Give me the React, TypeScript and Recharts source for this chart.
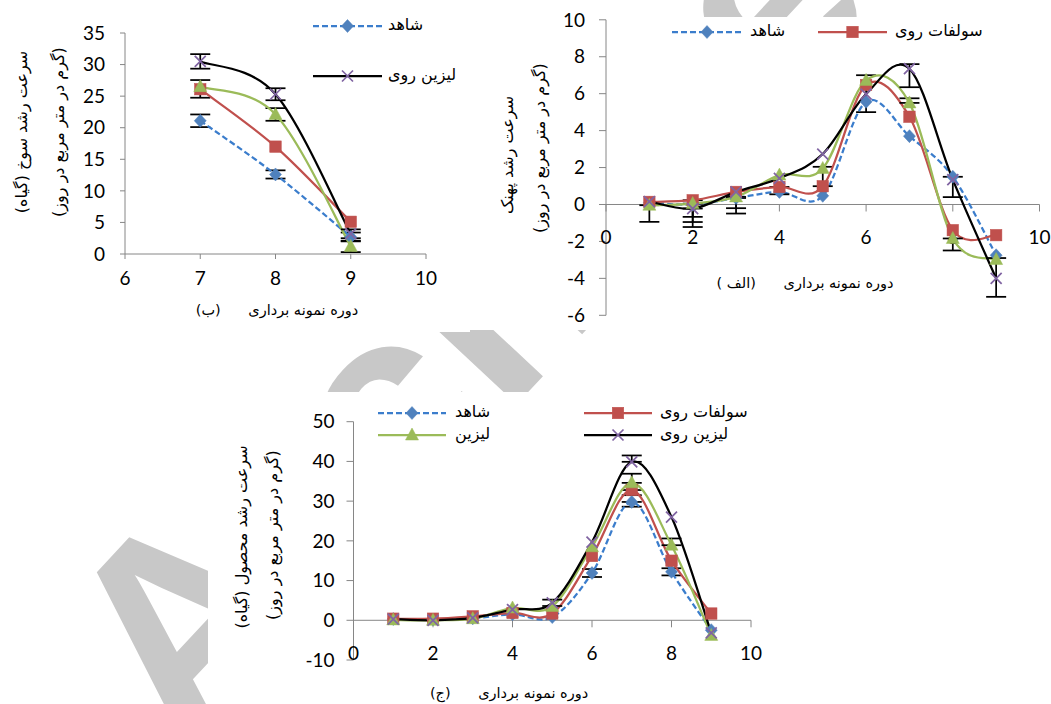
import React from 'react';
import { LineChart, Line, XAxis, YAxis, ErrorBar, ReferenceLine, ReferenceDot } from 'recharts';

// ---------- data ----------
const seriesNames = ['شاهد', 'سولفات روی', 'لیزین', 'لیزین روی'];

// (الف) leaf blade growth rate
const periodsA = [1, 2, 3, 4, 5, 6, 7, 8, 9];
const controlA = [0.1, 0.0, 0.35, 0.68, 0.47, 5.56, 3.7, 1.5, -2.75];
const znSulfateA = [0.14, 0.23, 0.68, 0.95, 0.99, 6.47, 4.75, -1.39, -1.66];
const lysineA = [-0.04, 0.05, 0.41, 1.59, 1.95, 6.72, 5.5, -1.84, -2.98];
const znLysineA = [0.16, -0.22, 0.68, 1.42, 2.73, 5.98, 7.35, 1.35, -4.0];
type Err = number | [number, number] | null;
const controlAErr: Err[] = [null, null, [0.55, 0], null, null, [0.56, 1.44], null, null, null];
const znSulfateAErr: Err[] = [null, [0.9, 0], null, [0.4, 0], [0, 1.05], null, null, null, null];
const lysineAErr: Err[] = [[0.9, 0], [1.0, 0], [0.9, 0], null, null, null, [0, 0.25], [0.65, 0], null];
const znLysineAErr: Err[] = [null, [1.0, 0], null, null, null, null, [1.0, 0.25], [0.95, 0.15], [1.0, 1.1]];
const xTicksA = [0, 2, 4, 6, 8, 10];
const yTicksA = [-6, -4, -2, 0, 2, 4, 6, 8, 10];

// (ب) sheath growth rate
const periodsB = [7, 8, 9];
const controlB = [21.1, 12.6, 2.7];
const znSulfateB = [26.1, 17.0, 5.1];
const lysineB = [26.5, 22.1, 1.2];
const znLysineB = [30.5, 25.3, 3.2];
const controlBErr: Err[] = [1.0, 0.65, 0.7];
const znSulfateBErr: Err[] = [[1.35, 1.45], null, null];
const lysineBErr: Err[] = [null, 1.0, 0.9];
const znLysineBErr: Err[] = [1.15, 0.95, 0.7];
const xTicksB = [6, 7, 8, 9, 10];
const yTicksB = [0, 5, 10, 15, 20, 25, 30, 35];

// (ج) crop growth rate
const periodsC = [1, 2, 3, 4, 5, 6, 7, 8, 9];
const controlC = [0.3, 0.2, 0.5, 1.5, 0.8, 11.9, 29.8, 12.2, -2.5];
const znSulfateC = [0.4, 0.4, 1.0, 1.85, 1.7, 16.2, 32.8, 15.0, 1.7];
const lysineC = [0.1, 0.0, 0.4, 3.1, 3.5, 18.5, 34.6, 18.9, -3.8];
const znLysineC = [0.3, 0.0, 0.6, 2.7, 4.4, 19.7, 39.9, 26.0, -3.2];
const controlCErr: Err[] = [null, null, null, null, null, 1.0, [1.2, 0], 0.9, null];
const znSulfateCErr: Err[] = [null, null, null, null, null, null, [1.3, 0], null, null];
const lysineCErr: Err[] = [null, null, null, null, null, null, [0, 2.3], [0, 1.7], null];
const znLysineCErr: Err[] = [null, null, null, null, 0.8, null, [0, 1.6], null, null];
const xTicksC = [0, 2, 4, 6, 8, 10];
const yTicksC = [-10, 0, 10, 20, 30, 40, 50];

// ---------- styles ----------
const AXIS = '#868686';
const NUM_FONT = 'Lato, "Liberation Sans", sans-serif';
const NUM_SIZE = 19;
const FA_FONT = '"DejaVu Sans", sans-serif';

const SERIES = [
  { key: 'control', line: '#3B7DCC', marker: 'diamond', markerColor: '#4F81BD', dash: '6 3' },
  { key: 'znSulfate', line: '#C0504D', marker: 'square', markerColor: '#C0504D', dash: undefined },
  { key: 'lysine', line: '#9BBB59', marker: 'triangle', markerColor: '#9BBB59', dash: undefined },
  { key: 'znLysine', line: '#000000', marker: 'x', markerColor: '#8064A2', dash: undefined },
];

function buildRows(periods: number[], values: number[][], errs: Err[][]) {
  return periods.map((p, i) => {
    const row: any = { period: p };
    SERIES.forEach((s, j) => {
      row[s.key] = values[j][i];
      row[s.key + 'Err'] = errs[j][i];
    });
    return row;
  });
}

const rowsA = buildRows(periodsA, [controlA, znSulfateA, lysineA, znLysineA], [controlAErr, znSulfateAErr, lysineAErr, znLysineAErr]);
const rowsB = buildRows(periodsB, [controlB, znSulfateB, lysineB, znLysineB], [controlBErr, znSulfateBErr, lysineBErr, znLysineBErr]);
const rowsC = buildRows(periodsC, [controlC, znSulfateC, lysineC, znLysineC], [controlCErr, znSulfateCErr, lysineCErr, znLysineCErr]);

// Excel-like smoothed line (Catmull-Rom as cubic Bezier)
function excelSmooth(context: any) {
  let pts: number[][] = [];
  return {
    areaStart() {},
    areaEnd() {},
    lineStart() {
      pts = [];
    },
    point(x: number, y: number) {
      pts.push([+x, +y]);
    },
    lineEnd() {
      const n = pts.length;
      if (!n) return;
      context.moveTo(pts[0][0], pts[0][1]);
      for (let i = 0; i < n - 1; i++) {
        const p0 = pts[i - 1] || pts[i];
        const p1 = pts[i];
        const p2 = pts[i + 1];
        const p3 = pts[i + 2] || p2;
        context.bezierCurveTo(
          p1[0] + (p2[0] - p0[0]) / 6,
          p1[1] + (p2[1] - p0[1]) / 6,
          p2[0] - (p3[0] - p1[0]) / 6,
          p2[1] - (p3[1] - p1[1]) / 6,
          p2[0],
          p2[1]
        );
      }
    },
  };
}

function markerShape(kind: string, color: string, cx: number, cy: number, key?: any) {
  if (cx == null || cy == null || isNaN(cx) || isNaN(cy)) return <g key={key} />;
  switch (kind) {
    case 'diamond':
      return <path key={key} d={`M${cx} ${cy - 6.5}L${cx + 6} ${cy}L${cx} ${cy + 6.5}L${cx - 6} ${cy}Z`} fill={color} stroke={color} strokeWidth={0.5} />;
    case 'square':
      return <rect key={key} x={cx - 5.75} y={cy - 5.75} width={11.5} height={11.5} fill={color} stroke={color} strokeWidth={0.5} />;
    case 'triangle':
      return <path key={key} d={`M${cx} ${cy - 7}L${cx + 6.5} ${cy + 5}L${cx - 6.5} ${cy + 5}Z`} fill={color} stroke={color} strokeWidth={0.5} />;
    default:
      return <path key={key} d={`M${cx - 5.5} ${cy - 5.5}L${cx + 5.5} ${cy + 5.5}M${cx + 5.5} ${cy - 5.5}L${cx - 5.5} ${cy + 5.5}`} stroke={color} strokeWidth={1.75} fill="none" />;
  }
}

function renderSeries() {
  return SERIES.map((s) => (
    <Line
      key={s.key}
      dataKey={s.key}
      type={excelSmooth as any}
      stroke={s.line}
      strokeWidth={2.25}
      strokeDasharray={s.dash}
      isAnimationActive={false}
      dot={(p: any) => markerShape(s.marker, s.markerColor, p.cx, p.cy, p.key)}
      activeDot={false}
    >
      <ErrorBar dataKey={s.key + 'Err'} width={10} strokeWidth={1.75} stroke="#000" direction="y" />
    </Line>
  ));
}

const numTick = { fill: '#000', fontSize: NUM_SIZE, fontFamily: NUM_FONT };

function zeroAxisTick(label: number) {
  return (p: any) => (
    <g>
      <line x1={p.cx} y1={p.cy} x2={p.cx} y2={p.cy + 7} stroke={AXIS} strokeWidth={1} />
      <text x={p.cx} y={p.cy + 33 + 7} textAnchor="middle" fill="#000" fontSize={NUM_SIZE} fontFamily={NUM_FONT}>
        {label}
      </text>
    </g>
  );
}

// ---------- overlays ----------
function LegendEntry({ si, x1, x2, y, textX }: { si: number; x1: number; x2: number; y: number; textX: number }) {
  const s = SERIES[si];
  return (
    <>
      <svg style={{ position: 'absolute', left: x1, top: y - 10, overflow: 'visible' }} width={x2 - x1} height={20}>
        <line x1={0} y1={10} x2={x2 - x1} y2={10} stroke={s.line} strokeWidth={2.25} strokeDasharray={s.dash} />
        {markerShape(s.marker, s.markerColor, (x2 - x1) / 2, 10)}
      </svg>
      <div
        style={{
          position: 'absolute',
          left: textX,
          top: y - 12,
          fontFamily: FA_FONT,
          fontSize: 16,
          lineHeight: '22px',
          direction: 'rtl',
          whiteSpace: 'nowrap',
          color: '#000',
        }}
      >
        {seriesNames[si]}
      </div>
    </>
  );
}

function RotTitle({ cx, cy, text, size = 16 }: { cx: number; cy: number; text: string; size?: number }) {
  return (
    <div
      style={{
        position: 'absolute',
        left: cx,
        top: cy,
        transform: 'translate(-50%, -50%) rotate(-90deg)',
        fontFamily: FA_FONT,
        fontSize: size,
        whiteSpace: 'nowrap',
        direction: 'rtl',
        color: '#000',
        lineHeight: '22px',
      }}
    >
      {text}
    </div>
  );
}

function XTitle({ cx, cy, text }: { cx: number; cy: number; text: string }) {
  return (
    <div
      style={{
        position: 'absolute',
        left: cx,
        top: cy,
        transform: 'translate(-50%, -50%)',
        fontFamily: FA_FONT,
        fontSize: 14.5,
        whiteSpace: 'pre',
        direction: 'rtl',
        color: '#000',
      }}
    >
      {text}
    </div>
  );
}

const yTitle1A = 'سرعت رشد پهنک';
const yTitle1B = 'سرعت رشد سوخ (گیاه)';
const yTitle1C = 'سرعت رشد محصول (گیاه)';
const yTitle2 = '(گرم در متر مربع در روز)';
const xTitleA = 'دوره نمونه برداری      (الف )';
const xTitleB = 'دوره نمونه برداری      (ب)';
const xTitleC = 'دوره نمونه برداری      (ج)';

export default function App() {
  return (
    <div style={{ position: 'absolute', left: 0, top: 0, width: 1051, height: 704, background: '#fff', overflow: 'hidden' }}>
      {/* watermark (background decoration) */}
      <svg style={{ position: 'absolute', left: 0, top: 0 }} width={1051} height={704}>
        <text
          x={0}
          y={0}
          transform="translate(185 760) rotate(-47)"
          fontSize={280}
          fontWeight="bold"
          fontFamily='"Liberation Sans", Arial, sans-serif'
          fill="#c8c8c8"
        >
          Archive of SID
        </text>
      </svg>
      {/* white chart areas */}
      <div style={{ position: 'absolute', left: 0, top: 0, width: 470, height: 332, background: '#fff' }} />
      <div style={{ position: 'absolute', left: 470, top: 17, width: 581, height: 313, background: '#fff' }} />
      <div style={{ position: 'absolute', left: 208, top: 392, width: 572, height: 312, background: '#fff' }} />

      {/* chart (ب) */}
      <div style={{ position: 'absolute', left: 0, top: 0 }}>
        <LineChart width={470} height={332} data={rowsB} margin={{ top: 33, right: 44, bottom: 48, left: 0 }}>
          <XAxis
            type="number"
            dataKey="period"
            domain={[6, 10]}
            ticks={xTicksB}
            allowDataOverflow
            height={30}
            tickSize={5}
            tickMargin={13}
            axisLine={{ stroke: AXIS }}
            tickLine={{ stroke: AXIS }}
            tick={numTick}
          />
          <YAxis
            type="number"
            domain={[0, 35]}
            ticks={yTicksB}
            allowDataOverflow
            width={125}
            tickSize={5}
            tickMargin={15}
            axisLine={{ stroke: AXIS }}
            tickLine={{ stroke: AXIS }}
            tick={numTick}
          />
          {renderSeries()}
        </LineChart>
      </div>

      {/* chart (الف) */}
      <div style={{ position: 'absolute', left: 470, top: 0 }}>
        <LineChart width={581} height={330} data={rowsA} margin={{ top: 19.8, right: 11.5, bottom: 14.7, left: 0 }}>
          <XAxis type="number" dataKey="period" domain={[0, 10]} allowDataOverflow hide />
          <YAxis
            type="number"
            domain={[-6, 10]}
            ticks={yTicksA}
            allowDataOverflow
            width={136}
            tickSize={7}
            tickMargin={14}
            axisLine={{ stroke: AXIS }}
            tickLine={{ stroke: AXIS }}
            tick={numTick}
          />
          <ReferenceLine y={0} stroke={AXIS} strokeWidth={1} />
          {xTicksA.map((t) => (
            <ReferenceDot key={t} x={t} y={0} r={1} ifOverflow="visible" shape={zeroAxisTick(t)} />
          ))}
          {renderSeries()}
        </LineChart>
      </div>

      {/* chart (ج) */}
      <div style={{ position: 'absolute', left: 208, top: 392 }}>
        <LineChart width={572} height={312} data={rowsC} margin={{ top: 29.7, right: 29, bottom: 44, left: 0 }}>
          <XAxis type="number" dataKey="period" domain={[0, 10]} allowDataOverflow hide />
          <YAxis
            type="number"
            domain={[-10, 50]}
            ticks={yTicksC}
            allowDataOverflow
            width={145.5}
            tickSize={7}
            tickMargin={12}
            axisLine={{ stroke: AXIS }}
            tickLine={{ stroke: AXIS }}
            tick={numTick}
          />
          <ReferenceLine y={0} stroke={AXIS} strokeWidth={1} />
          {xTicksC.map((t) => (
            <ReferenceDot key={t} x={t} y={0} r={1} ifOverflow="visible" shape={zeroAxisTick(t)} />
          ))}
          {renderSeries()}
        </LineChart>
      </div>

      {/* legends */}
      <LegendEntry si={0} x1={313} x2={382} y={26} textX={388} />
      <LegendEntry si={3} x1={313} x2={382} y={76} textX={388} />

      <LegendEntry si={0} x1={672} x2={742} y={32} textX={750} />
      <LegendEntry si={1} x1={818} x2={887} y={32} textX={895} />

      <LegendEntry si={0} x1={378} x2={446} y={413} textX={455} />
      <LegendEntry si={2} x1={378} x2={446} y={435} textX={455} />
      <LegendEntry si={1} x1={584} x2={652} y={413} textX={660} />
      <LegendEntry si={3} x1={584} x2={652} y={435} textX={660} />

      {/* axis titles */}
      <RotTitle cx={22} cy={132} text={yTitle1B} />
      <RotTitle cx={59} cy={132} text={yTitle2} />
      <XTitle cx={277} cy={310} text={xTitleB} />

      <RotTitle cx={508} cy={155} text={yTitle1A} />
      <RotTitle cx={540} cy={148} text={yTitle2} />
      <XTitle cx={805} cy={283} text={xTitleA} />

      <RotTitle cx={242} cy={537} text={yTitle1C} />
      <RotTitle cx={273} cy={535} text={yTitle2} />
      <XTitle cx={509} cy={693} text={xTitleC} />
    </div>
  );
}
